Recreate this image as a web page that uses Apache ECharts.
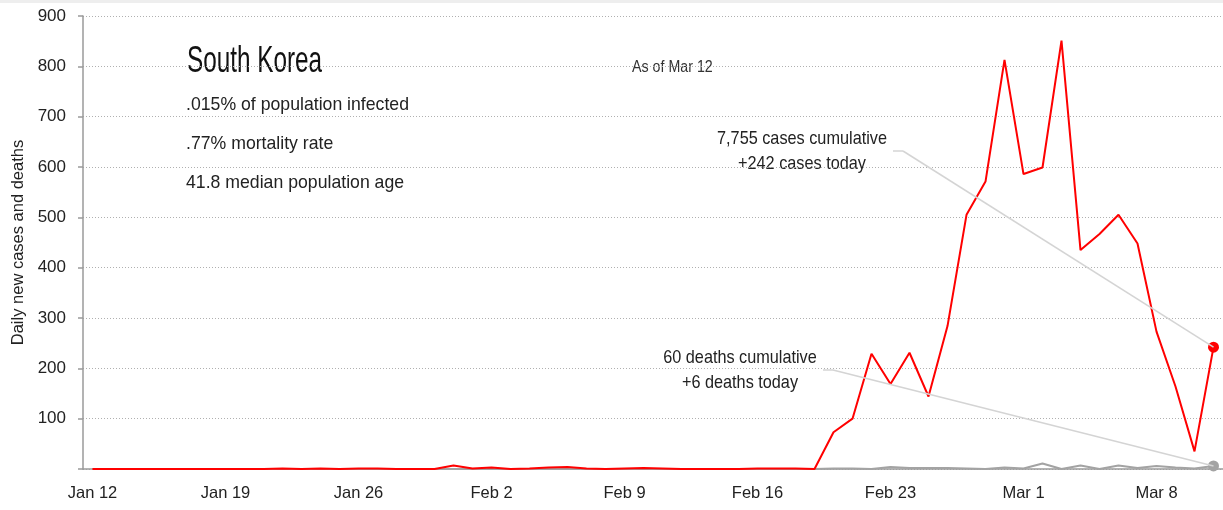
<!DOCTYPE html>
<html>
<head>
<meta charset="utf-8">
<script src="https://cdn.jsdelivr.net/npm/echarts@6/dist/echarts.min.js"></script>
<style>
  html, body { margin: 0; padding: 0; background: #fff; }
  #chart { width: 1223px; height: 510px; }
</style>
</head>
<body>
<div id="chart"></div>
<script>
// x轴日期 (Jan 12 - Mar 11)
var days = [
  'Jan 12', 'Jan 13', 'Jan 14', 'Jan 15', 'Jan 16', 'Jan 17', 'Jan 18',
  'Jan 19', 'Jan 20', 'Jan 21', 'Jan 22', 'Jan 23', 'Jan 24', 'Jan 25',
  'Jan 26', 'Jan 27', 'Jan 28', 'Jan 29', 'Jan 30', 'Jan 31', 'Feb 1',
  'Feb 2', 'Feb 3', 'Feb 4', 'Feb 5', 'Feb 6', 'Feb 7', 'Feb 8',
  'Feb 9', 'Feb 10', 'Feb 11', 'Feb 12', 'Feb 13', 'Feb 14', 'Feb 15',
  'Feb 16', 'Feb 17', 'Feb 18', 'Feb 19', 'Feb 20', 'Feb 21', 'Feb 22',
  'Feb 23', 'Feb 24', 'Feb 25', 'Feb 26', 'Feb 27', 'Feb 28', 'Feb 29',
  'Mar 1', 'Mar 2', 'Mar 3', 'Mar 4', 'Mar 5', 'Mar 6', 'Mar 7',
  'Mar 8', 'Mar 9', 'Mar 10', 'Mar 11'
]
// 每日新增病例
var newCases = [
  0, 0, 0, 0, 0, 0, 0,
  0, 0, 0, 1, 0, 1, 0,
  1, 1, 0, 0, 0, 7, 1,
  3, 0, 1, 3, 4, 1, 0,
  1, 2, 1, 0, 0, 0, 0,
  1, 1, 1, 0, 73, 100, 229,
  169, 231, 144, 284, 505, 571, 813,
  586, 599, 851, 435, 467, 505, 448,
  273, 164, 35, 242
]
// 每日新增死亡
var newDeaths = [
  0, 0, 0, 0, 0, 0, 0,
  0, 0, 0, 0, 0, 0, 0,
  0, 0, 0, 0, 0, 0, 0,
  0, 0, 0, 0, 0, 0, 0,
  0, 0, 0, 0, 0, 0, 0,
  0, 0, 0, 0, 1, 1, 0,
  4, 2, 2, 2, 1, 0, 3,
  1, 11, 0, 7, 0, 7, 2,
  6, 3, 1, 6
]
var yTicks = [0, 100, 200, 300, 400, 500, 600, 700, 800, 900]

var FONT = '"Liberation Sans", Arial, sans-serif'
var last = days.length - 1

// 只在最后一个点画圆点
function withEndDot(values) {
  return values.map(function (v, i) {
    if (i === last) return { value: v, symbol: 'circle', symbolSize: 11 }
    return v
  })
}

// 压窄的文字 (原图是窄体字)
function narrowText(x, y, text, size, sx, opts) {
  var style = { text: text, font: size + 'px ' + FONT, fill: '#222', textVerticalAlign: 'middle' }
  for (var k in opts) style[k] = opts[k]
  return { type: 'text', x: x, y: y, scaleX: sx, style: style, silent: true }
}

var myChart = echarts.init(document.getElementById('chart'))
var option = {
  animation: false,
  backgroundColor: '#fff',
  grid: { left: 83, right: 0, top: 16, bottom: 41, containLabel: false, outerBoundsMode: 'none' },
  xAxis: {
    type: 'category',
    data: days,
    boundaryGap: true,
    axisLine: { lineStyle: { color: '#9a9a9a', width: 1.5 } },
    axisTick: { interval: 6, length: 5, lineStyle: { color: '#9a9a9a', width: 1.5 } },
    axisLabel: { interval: 6, fontSize: 16.5, color: '#222', margin: 16, fontFamily: FONT },
    splitLine: { show: false }
  },
  yAxis: {
    type: 'value',
    min: yTicks[0],
    max: yTicks[yTicks.length - 1],
    interval: 100,
    name: 'Daily new cases and deaths',
    nameLocation: 'middle',
    nameGap: 54,
    nameTextStyle: { fontSize: 16.5, color: '#222', fontFamily: FONT },
    axisLine: { show: true, lineStyle: { color: '#9a9a9a', width: 1.5 } },
    axisTick: { show: true, length: 5, lineStyle: { color: '#9a9a9a', width: 1.5 } },
    axisLabel: {
      fontSize: 17,
      color: '#222',
      margin: 17,
      fontFamily: FONT,
      formatter: function (v) { return v === 0 ? '' : String(v) }
    },
    splitLine: { show: true, lineStyle: { color: '#b0b0b0', width: 1, type: [1, 2] } }
  },
  series: [
    {
      name: 'deaths',
      type: 'line',
      data: withEndDot(newDeaths),
      symbol: 'none',
      showSymbol: true,
      showAllSymbol: true,
      z: 2,
      lineStyle: { color: '#a3a3a3', width: 2 },
      itemStyle: { color: '#a3a3a3' },
      markLine: {
        silent: true,
        symbol: 'none',
        label: { show: false },
        lineStyle: { color: '#d4d4d4', width: 1.5, type: 'solid' },
        data: [
          [{ x: 823, y: 370 }, { x: 833, y: 370 }],
          [{ x: 833, y: 370 }, { coord: [last, newDeaths[last]] }]
        ]
      }
    },
    {
      name: 'cases',
      type: 'line',
      data: withEndDot(newCases),
      symbol: 'none',
      showSymbol: true,
      showAllSymbol: true,
      z: 3,
      lineStyle: { color: '#ff0000', width: 2 },
      itemStyle: { color: '#ff0000' },
      markLine: {
        silent: true,
        symbol: 'none',
        label: { show: false },
        lineStyle: { color: '#d4d4d4', width: 1.5, type: 'solid' },
        data: [
          [{ x: 893, y: 151 }, { x: 903, y: 151 }],
          [{ x: 903, y: 151 }, { coord: [last, newCases[last]] }]
        ]
      }
    }
  ],
  graphic: [
    { type: 'rect', left: 0, top: 0, shape: { width: 1223, height: 3 }, style: { fill: '#eeeeee' }, silent: true },
    narrowText(187, 62, 'South Korea', 36, 0.675, { fill: '#111' }),
    narrowText(186, 105, '.015% of population infected', 19, 0.93),
    narrowText(186, 144, '.77% mortality rate', 19, 0.93),
    narrowText(186, 183, '41.8 median population age', 19, 0.93),
    narrowText(632, 68, 'As of Mar 12', 16, 0.89, { fill: '#333' }),
    narrowText(802, 151, '7,755 cases cumulative\n+242 cases today', 19, 0.856, { textAlign: 'center', lineHeight: 25 }),
    narrowText(740, 370, '60 deaths cumulative\n+6 deaths today', 19, 0.855, { textAlign: 'center', lineHeight: 25 })
  ]
}
myChart.setOption(option)
</script>
</body>
</html>
